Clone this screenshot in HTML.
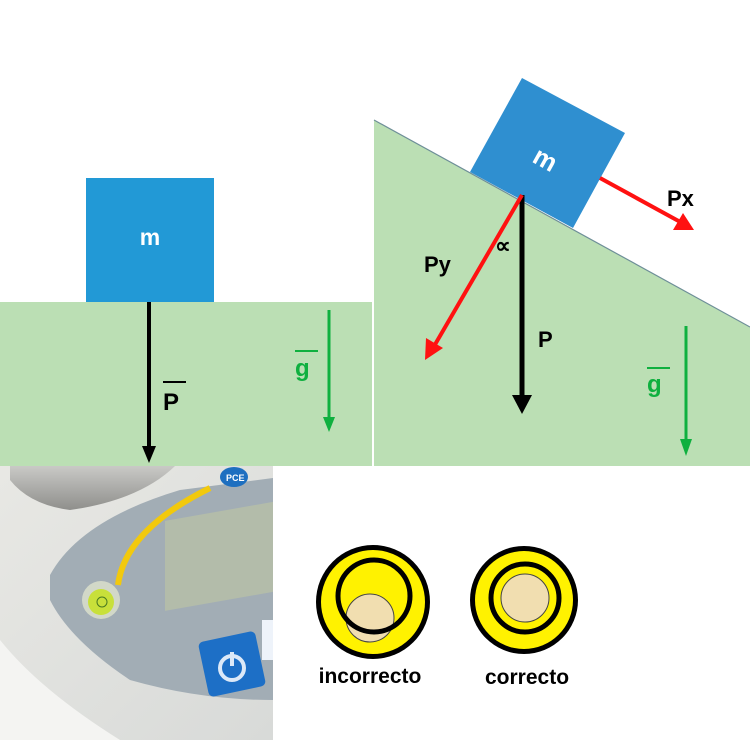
<!DOCTYPE html>
<html><head><meta charset="utf-8"><style>
html,body{margin:0;padding:0;background:#fff;width:750px;height:740px;overflow:hidden}
svg{display:block}
text{font-family:"Liberation Sans",Arial,sans-serif;font-weight:bold}
</style></head><body>
<svg width="750" height="740" viewBox="0 0 750 740" xmlns="http://www.w3.org/2000/svg">
<defs>
<linearGradient id="body" x1="0" y1="0" x2="1" y2="1">
<stop offset="0" stop-color="#e8e8e4"/><stop offset="1" stop-color="#d8dad8"/>
</linearGradient>
<linearGradient id="tray" x1="0" y1="0" x2="0" y2="1">
<stop offset="0" stop-color="#c9c9c6"/><stop offset="1" stop-color="#8f8f8c"/>
</linearGradient>
</defs>
<!-- left panel -->
<rect x="0" y="302" width="372" height="164" fill="#bbdfb4"/>
<rect x="86" y="178" width="128" height="124" fill="#2299d6"/>
<text x="150" y="245" font-size="23" fill="#fff" text-anchor="middle">m</text>
<line x1="149" y1="302" x2="149" y2="448" stroke="#000" stroke-width="4"/>
<polygon points="142,446 156,446 149,463" fill="#000"/>
<text x="163" y="410" font-size="24" fill="#000">P</text>
<line x1="163" y1="382" x2="186" y2="382" stroke="#000" stroke-width="2"/>
<line x1="329" y1="310" x2="329" y2="420" stroke="#0fb03f" stroke-width="3"/>
<polygon points="323,417 335,417 329,432" fill="#0fb03f"/>
<text x="295" y="376" font-size="24" fill="#0fb03f">g</text>
<line x1="295" y1="351" x2="318" y2="351" stroke="#0fb03f" stroke-width="2"/>
<!-- right panel -->
<polygon points="374,120 750,327 750,466 374,466" fill="#bbdfb4"/>
<line x1="374" y1="120" x2="750" y2="327" stroke="#6e8f98" stroke-width="1.2"/>
<polygon points="470,172 522,78 625,133 573,228" fill="#2f8fd0"/>
<text x="545" y="168" font-size="26" fill="#fff" text-anchor="middle" transform="rotate(29 545 160)">m</text>
<line x1="522" y1="195" x2="522" y2="398" stroke="#000" stroke-width="5"/>
<polygon points="512,395 532,395 522,414" fill="#000"/>
<text x="538" y="347" font-size="22" fill="#000">P</text>
<line x1="522" y1="195" x2="433" y2="348" stroke="#f11" stroke-width="4"/>
<polygon points="425,360 426,338 443,348" fill="#f11"/>
<text x="424" y="272" font-size="22" fill="#000">Py</text>
<text x="495" y="253" font-size="22" fill="#000" font-weight="normal">∝</text>
<line x1="600" y1="178" x2="684" y2="224" stroke="#f11" stroke-width="4"/>
<polygon points="694,230 673,230 683,213" fill="#f11"/>
<text x="667" y="206" font-size="22" fill="#000">Px</text>
<line x1="686" y1="326" x2="686" y2="442" stroke="#0fb03f" stroke-width="3"/>
<polygon points="680,439 692,439 686,456" fill="#0fb03f"/>
<text x="647" y="392" font-size="24" fill="#0fb03f">g</text>
<line x1="647" y1="368" x2="670" y2="368" stroke="#0fb03f" stroke-width="2"/>
<!-- photo bottom left -->
<g>
<rect x="0" y="466" width="273" height="274" fill="#f4f4f2"/>
<path d="M0,466 L273,466 L273,740 L120,740 Q40,690 0,640 Z" fill="url(#body)"/>
<path d="M10,466 L175,466 Q140,500 70,510 Q30,505 10,480 Z" fill="url(#tray)"/>
<path d="M50,575 Q80,520 180,490 L273,478 L273,700 Q200,700 130,680 Q70,640 50,600 Z" fill="#a2adb5"/>
<rect x="165" y="515" width="108" height="90" fill="#b3bcaa" transform="skewY(-10) translate(0,35)"/>
<path d="M118,585 Q125,530 210,488" stroke="#f2c90d" stroke-width="6" fill="none"/>
<ellipse cx="234" cy="477" rx="14" ry="10" fill="#1e6fc0"/>
<text x="226" y="481" font-size="9" fill="#fff" font-weight="normal">PCE</text>
<circle cx="101" cy="600" r="19" fill="#d2d8c8"/>
<circle cx="101" cy="602" r="13" fill="#c8e03a"/>
<circle cx="102" cy="602" r="5" fill="none" stroke="#4a7a20" stroke-width="1"/>
<rect x="203" y="636" width="58" height="56" rx="5" fill="#1d6fc6" transform="rotate(-12 232 664)"/>
<circle cx="232" cy="668" r="12" fill="none" stroke="#dce9f8" stroke-width="4"/>
<line x1="232" y1="652" x2="232" y2="666" stroke="#dce9f8" stroke-width="4"/>
<rect x="262" y="620" width="11" height="40" fill="#eef3fa"/>
</g>
<!-- levels -->
<circle cx="373" cy="602" r="57" fill="#000"/>
<circle cx="373" cy="602" r="52" fill="#fff200"/>
<circle cx="370" cy="618" r="24" fill="#f1deb0" stroke="#444" stroke-width="1"/>
<circle cx="374" cy="596" r="36" fill="none" stroke="#000" stroke-width="5"/>
<text x="370" y="683" font-size="21" fill="#000" text-anchor="middle">incorrecto</text>
<circle cx="524" cy="600" r="54" fill="#000"/>
<circle cx="524" cy="600" r="49" fill="#fff200"/>
<circle cx="525" cy="598" r="34" fill="none" stroke="#000" stroke-width="5"/>
<circle cx="525" cy="598" r="24" fill="#f1deb0" stroke="#444" stroke-width="1"/>
<text x="527" y="684" font-size="21" fill="#000" text-anchor="middle">correcto</text>
</svg>
</body></html>
